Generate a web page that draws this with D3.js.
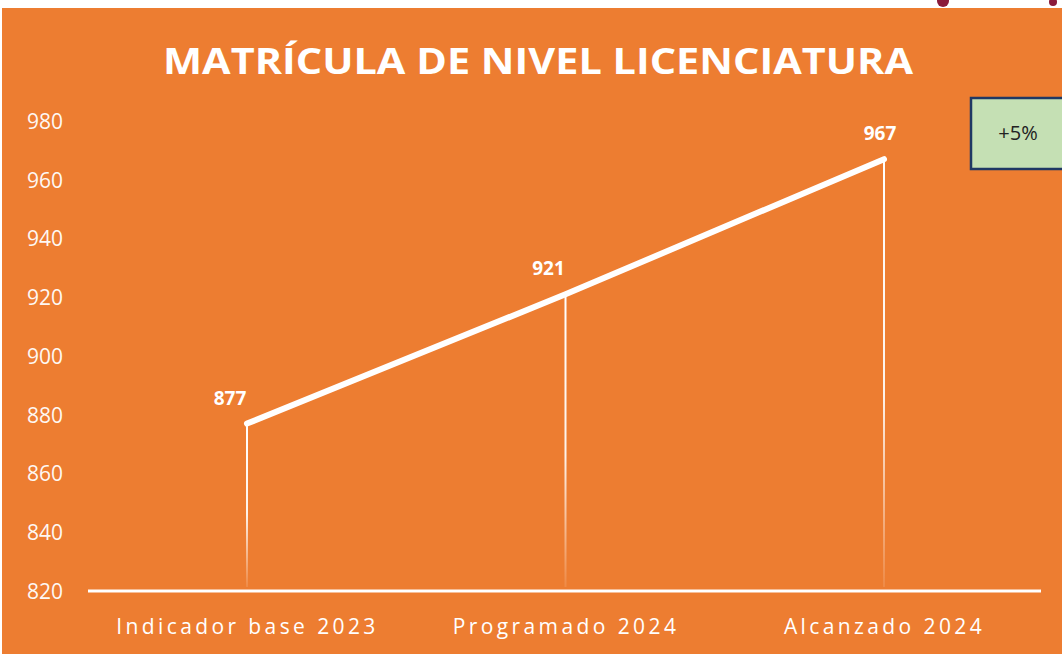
<!DOCTYPE html>
<html><head><meta charset="utf-8">
<script src="https://cdn.jsdelivr.net/npm/d3@7"></script>
<style>html,body{margin:0;padding:0;background:#fff;}svg{display:block;}</style>
</head><body>
<script>
const categories = ["Indicador base 2023", "Programado 2024", "Alcanzado 2024"];
const values = [877, 921, 967];
const yTicks = [820, 840, 860, 880, 900, 920, 940, 960, 980];
const title = "MATRÍCULA DE NIVEL LICENCIATURA";
const badge = "+5%";

const W = 1062, H = 654;
const svg = d3.select("body").append("svg").attr("width", W).attr("height", H);
const orange = "#ED7D31";

// background
svg.append("rect").attr("x", 0).attr("y", 0).attr("width", W).attr("height", H).attr("fill", "#fff");
svg.append("rect").attr("x", 2).attr("y", 8).attr("width", W - 2).attr("height", H - 8).attr("fill", orange);
// decoration bits at top right
svg.append("circle").attr("cx", 943).attr("cy", 1).attr("r", 6).attr("fill", "#8B1A3A");
svg.append("circle").attr("cx", 1053).attr("cy", 2).attr("r", 4).attr("fill", "#8B1A3A");

const defs = svg.append("defs");
const grad = defs.append("linearGradient").attr("id", "fade").attr("x1", 0).attr("y1", 0).attr("x2", 0).attr("y2", 1);
grad.append("stop").attr("offset", "0%").attr("stop-color", "#fff").attr("stop-opacity", 1);
grad.append("stop").attr("offset", "55%").attr("stop-color", "#fff").attr("stop-opacity", 0.9);
grad.append("stop").attr("offset", "100%").attr("stop-color", "#fff").attr("stop-opacity", 0.1);

const x = d3.scalePoint().domain(categories).range([247, 884]);
const y = d3.scaleLinear().domain([820, 980]).range([591, 121]);

// title
svg.append("text").text(title)
  .attr("x", 538).attr("y", 74).attr("text-anchor", "middle")
  .attr("font-family", "Open Sans").attr("font-weight", "bold").attr("font-size", 35)
  .attr("textLength", 750).attr("lengthAdjust", "spacingAndGlyphs")
  .attr("fill", "#fff");

// y axis labels
const yAxis = d3.axisLeft(y).tickValues(yTicks).tickSize(0).tickPadding(0);
const gy = svg.append("g").attr("transform", "translate(63,0)").call(yAxis);
gy.select(".domain").remove();
gy.selectAll("text").attr("fill", "#fff").attr("font-family", "Open Sans").attr("font-size", 21)
  .attr("text-anchor", "end").attr("dy", "0.35em").attr("opacity", 0.95);

// x axis
const xAxis = d3.axisBottom(x).tickSize(0).tickPadding(0);
const gx = svg.append("g").attr("transform", "translate(0,591)").call(xAxis);
gx.select(".domain").remove();
gx.append("line").attr("x1", 88).attr("x2", 1041).attr("y1", 0).attr("y2", 0)
  .attr("stroke", "#fff").attr("stroke-width", 3);
gx.selectAll(".tick text").attr("fill", "#fff").attr("font-family", "Open Sans").attr("font-size", 21)
  .attr("letter-spacing", 3.4).attr("y", 43).attr("dy", 0);

// drop lines
svg.append("g").selectAll("rect").data(values).join("rect")
  .attr("x", (d, i) => x(categories[i]) - 1).attr("width", 2)
  .attr("y", d => y(d)).attr("height", d => y(820) - y(d) - 4)
  .attr("fill", "url(#fade)");

// line
const line = d3.line().x((d, i) => x(categories[i])).y(d => y(d));
svg.append("path").datum(values).attr("d", line)
  .attr("fill", "none").attr("stroke", "#fff").attr("stroke-width", 6)
  .attr("stroke-linecap", "round").attr("stroke-linejoin", "round");

// data labels
const labelDx = [-17, -17, -4];
svg.append("g").selectAll("text").data(values).join("text")
  .attr("x", (d, i) => x(categories[i]) + labelDx[i]).attr("y", d => y(d) - 19)
  .attr("text-anchor", "middle").attr("fill", "#fff")
  .attr("font-family", "Open Sans").attr("font-weight", "bold").attr("font-size", 19)
  .text(d => d);

// badge
svg.append("rect").attr("x", 971).attr("y", 98).attr("width", 100).attr("height", 71)
  .attr("fill", "#C5E0B4").attr("stroke", "#1F3864").attr("stroke-width", 2.5);
svg.append("text").text(badge).attr("x", 1018).attr("y", 140).attr("text-anchor", "middle")
  .attr("font-family", "Open Sans").attr("font-size", 20).attr("fill", "#222");
</script>
</body></html>
